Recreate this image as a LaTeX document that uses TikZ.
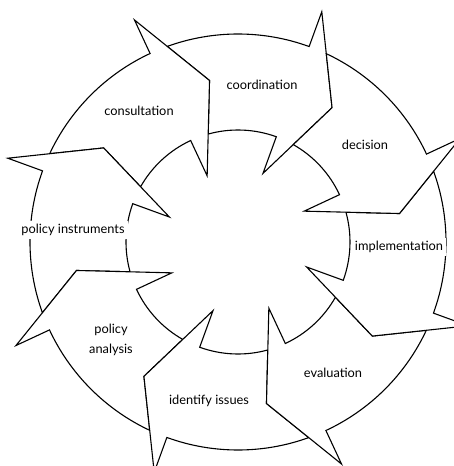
\documentclass[tikz,border=0pt]{standalone}
\usepackage{fontspec}
\setmainfont{Lato}
\tikzset{
  stage/.style      = {draw = black, fill = white, line width = 1.1pt, line join = miter},
  stagelabel/.style = {fill = white, inner sep = 3pt, align = center,
                       font = \fontsize{12.8}{20}\selectfont},
}
\begin{document}
\begin{tikzpicture}[x = 1pt, y = 1pt]
        \useasboundingbox (-238, -224) rectangle (215, 242);

        % ------------------------------------------------------------------------
        % Ring of arrows (each one turned to its place, head at angle 0)
        \foreach \a in {70, 115, 160, 205, 250, 295, 340, 25} {
          \draw[stage, rotate = \a]
            (39.88:208) arc[start angle = 39.88, end angle = 0, radius = 208]
            -- (0:245) -- (-15:164) -- (0:73) -- (0:112)
            arc[start angle = 0, end angle = 35.43, radius = 112]
            -- (30:164) -- cycle;
        }

        % ------------------------------------------------------------------------
        % Labels
        \node[stagelabel] at (  24,  157) (coord)   {coordination};
        \node[stagelabel] at ( 127,   97) (dec)     {decision};
        \node[stagelabel] at ( 161,   -5) (impl)    {implementation};
        \node[stagelabel] at (  95, -131) (eval)    {evaluation};
        \node[stagelabel] at ( -29, -159) (ident)   {identify issues};
        \node[stagelabel] at (-127,  -98) (analys)  {policy\\analysis};
        \node[stagelabel] at (-165,   12) (instr)   {policy instruments};
        \node[stagelabel] at ( -99,  131) (consult) {consultation};
      \end{tikzpicture}
\end{document}
